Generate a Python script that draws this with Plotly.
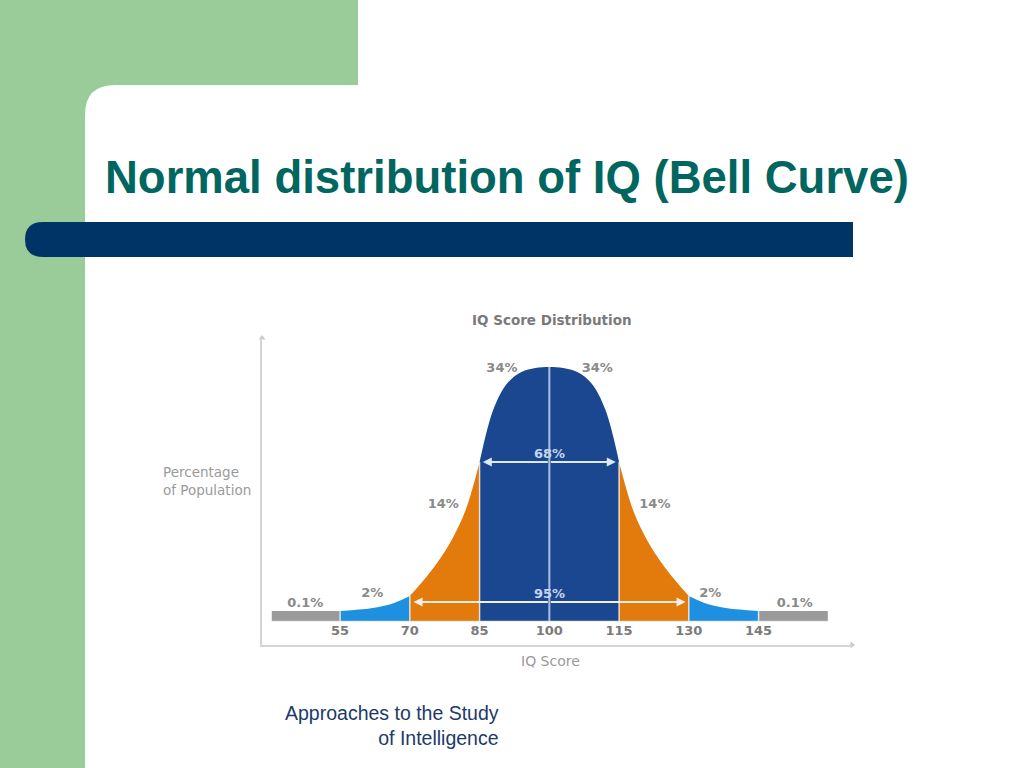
import plotly.graph_objects as go

# ---------------- data ----------------
iq_scores = [55, 58, 62, 66, 70, 73, 76, 79, 82, 85, 88, 91, 94, 97, 100,
             103, 106, 109, 112, 115, 118, 121, 124, 127, 130, 134, 138, 142, 145]
curve_height = [10, 11, 13, 17, 25, 41, 59, 81, 111, 159, 212, 238, 249, 253, 254,
                253, 249, 238, 212, 159, 111, 81, 59, 41, 25, 17, 13, 11, 10]

segment_bounds = [(55, 70), (70, 85), (85, 115), (115, 130), (130, 145)]
segment_colors = ["#1f8fe0", "#e27a0c", "#1b4791", "#e27a0c", "#1f8fe0"]

tail_ranges = [(40.3, 55), (145, 159.9)]
tail_height = 10

tick_values = [55, 70, 85, 100, 115, 130, 145]
tick_labels = ["55", "70", "85", "100", "115", "130", "145"]

pct_labels = ["0.1%", "2%", "14%", "34%", "34%", "14%", "2%", "0.1%"]
pct_x = [47.5, 61.9, 77.2, 89.8, 110.3, 122.7, 134.6, 152.8]
pct_y = [17, 27, 116, 252, 252, 116, 27, 17]

band68 = (85.7, 114.3)
band95 = (70.8, 129.3)

# ---------------- layout helpers ----------------
W, H = 1024, 768
def PX(x):
    return x / W
def PY(y):
    return 1 - y / H

X_MIN, X_MAX = 38.2, 165.1
Y_MIN, Y_MAX = -24, 283
LABEL_FONT = dict(family="DejaVu Sans", size=13, color="#8a8a8a")

fig = go.Figure()

# tail grey bars
for a, b in tail_ranges:
    fig.add_trace(go.Scatter(x=[a, b, b, a, a], y=[0, 0, tail_height, tail_height, 0],
                             mode="lines", fill="toself", fillcolor="#9a9a9a",
                             line=dict(width=0), hoverinfo="skip", showlegend=False))

# coloured segments of the bell curve
for (a, b), col in zip(segment_bounds, segment_colors):
    xs = [x for x in iq_scores if a <= x <= b]
    ys = [curve_height[iq_scores.index(x)] for x in xs]
    fig.add_trace(go.Scatter(x=xs, y=ys, mode="lines", line=dict(width=0, shape="spline", color=col),
                             fill="tozeroy", fillcolor=col, hoverinfo="skip", showlegend=False))

# separator lines
for v in [55, 70, 85, 115, 130, 145]:
    h = curve_height[iq_scores.index(v)]
    fig.add_trace(go.Scatter(x=[v, v], y=[0, h], mode="lines",
                             line=dict(color="rgba(255,255,255,0.75)", width=1.5),
                             hoverinfo="skip", showlegend=False))
fig.add_trace(go.Scatter(x=[100, 100], y=[0, curve_height[iq_scores.index(100)]], mode="lines",
                         line=dict(color="#a9bfe0", width=2), hoverinfo="skip", showlegend=False))
# faint baseline
fig.add_trace(go.Scatter(x=[tail_ranges[0][0], tail_ranges[1][1]], y=[0, 0], mode="lines",
                         line=dict(color="rgba(200,200,200,0.6)", width=1),
                         hoverinfo="skip", showlegend=False))

# percentage labels
fig.add_trace(go.Scatter(x=pct_x, y=pct_y, mode="text", text=["<b>%s</b>" % t for t in pct_labels],
                         textfont=LABEL_FONT, hoverinfo="skip", showlegend=False, cliponaxis=False))
# tick labels (drawn above the axis line as in the original)
fig.add_trace(go.Scatter(x=tick_values, y=[-11] * len(tick_values), mode="text",
                         text=["<b>%s</b>" % t for t in tick_labels],
                         textfont=dict(family="DejaVu Sans", size=13, color="#7a7a7a"),
                         hoverinfo="skip", showlegend=False, cliponaxis=False))

# axis arrow heads
fig.add_trace(go.Scatter(x=[X_MIN], y=[Y_MAX], mode="markers",
                         marker=dict(symbol="triangle-up", size=6, color="#c8c8c8"),
                         hoverinfo="skip", showlegend=False, cliponaxis=False))
fig.add_trace(go.Scatter(x=[X_MAX], y=[Y_MIN], mode="markers",
                         marker=dict(symbol="triangle-right", size=6, color="#c8c8c8"),
                         hoverinfo="skip", showlegend=False, cliponaxis=False))

annotations = []
# 68% / 95% arrows
for (lo, hi), yv, col in [(band68, 159, "#dfe8f5"), (band95, 19, "#f3efe9")]:
    for end in (lo, hi):
        annotations.append(dict(x=end, y=yv, ax=100, ay=yv, xref="x", yref="y", axref="x", ayref="y",
                                showarrow=True, arrowhead=2, arrowsize=1, arrowwidth=1.8,
                                arrowcolor=col, text=""))
annotations.append(dict(x=100, y=168, xref="x", yref="y", text="<b>68%</b>", showarrow=False,
                        xanchor="center", yanchor="middle",
                        font=dict(family="DejaVu Sans", size=13, color="#c5d5ee")))
annotations.append(dict(x=100, y=28, xref="x", yref="y", text="<b>95%</b>", showarrow=False,
                        xanchor="center", yanchor="middle",
                        font=dict(family="DejaVu Sans", size=13, color="#c5d5ee")))

# chart texts
annotations.append(dict(x=PX(552), y=PY(320), xref="paper", yref="paper", showarrow=False,
                        xanchor="center", yanchor="middle",
                        text="<b>IQ Score Distribution</b>",
                        font=dict(family="DejaVu Sans", size=13.5, color="#7a7a7a")))
annotations.append(dict(x=PX(161), y=PY(481), xref="paper", yref="paper", showarrow=False,
                        xanchor="left", yanchor="middle", align="left",
                        text="Percentage<br>of Population",
                        font=dict(family="DejaVu Sans", size=13.5, color="#9a9a9a")))
annotations.append(dict(x=PX(550), y=PY(661), xref="paper", yref="paper", showarrow=False,
                        xanchor="center", yanchor="middle",
                        text="IQ Score", font=dict(family="DejaVu Sans", size=14, color="#9a9a9a")))

# slide texts
annotations.append(dict(x=PX(103), y=PY(177), xref="paper", yref="paper", showarrow=False,
                        xanchor="left", yanchor="middle",
                        text="<b>Normal distribution of IQ (Bell Curve)</b>",
                        font=dict(family="Liberation Sans, Arial", size=45.5, color="#00665f")))
annotations.append(dict(x=PX(501), y=PY(725), xref="paper", yref="paper", showarrow=False,
                        xanchor="right", yanchor="middle", align="right",
                        text="Approaches to the Study<br>of Intelligence",
                        font=dict(family="Liberation Sans, Arial", size=19.5, color="#1c3a6b")))

r = 30
shapes = [
    dict(type="rect", xref="paper", yref="paper", x0=PX(0), x1=PX(358), y0=PY(85), y1=PY(0),
         fillcolor="#99cc99", line=dict(width=0), layer="below"),
    dict(type="rect", xref="paper", yref="paper", x0=PX(0), x1=PX(85), y0=PY(768), y1=PY(0),
         fillcolor="#99cc99", line=dict(width=0), layer="below"),
    dict(type="path", xref="paper", yref="paper",
         path="M %f,%f L %f,%f Q %f,%f %f,%f Z" % (PX(85), PY(85), PX(85 + r), PY(85),
                                                   PX(85), PY(85), PX(85), PY(85 + r)),
         fillcolor="#99cc99", line=dict(width=0), layer="below"),
    dict(type="path", xref="paper", yref="paper",
         path="M %f,%f L %f,%f Q %f,%f %f,%f Q %f,%f %f,%f L %f,%f Z" % (
             PX(853), PY(222), PX(43), PY(222), PX(25), PY(222), PX(25), PY(239.5),
             PX(25), PY(257), PX(43), PY(257), PX(853), PY(257)),
         fillcolor="#003366", line=dict(width=0), layer="below"),
]

fig.update_layout(
    width=W, height=H, margin=dict(l=0, r=0, t=0, b=0),
    paper_bgcolor="white", plot_bgcolor="rgba(0,0,0,0)",
    shapes=shapes, annotations=annotations, showlegend=False,
    xaxis=dict(range=[X_MIN, X_MAX], domain=[PX(262), PX(852)], showgrid=False, zeroline=False,
               showticklabels=False, ticks="", showline=True, linecolor="#d4d4d4", linewidth=2,
               fixedrange=True),
    yaxis=dict(range=[Y_MIN, Y_MAX], domain=[PY(645), PY(338)], showgrid=False, zeroline=False,
               showticklabels=False, ticks="", showline=True, linecolor="#d4d4d4", linewidth=2,
               fixedrange=True),
)

fig.write_html("out.html", config={"displayModeBar": False},
               post_script="document.body.style.margin='0';document.body.style.overflow='hidden';")
